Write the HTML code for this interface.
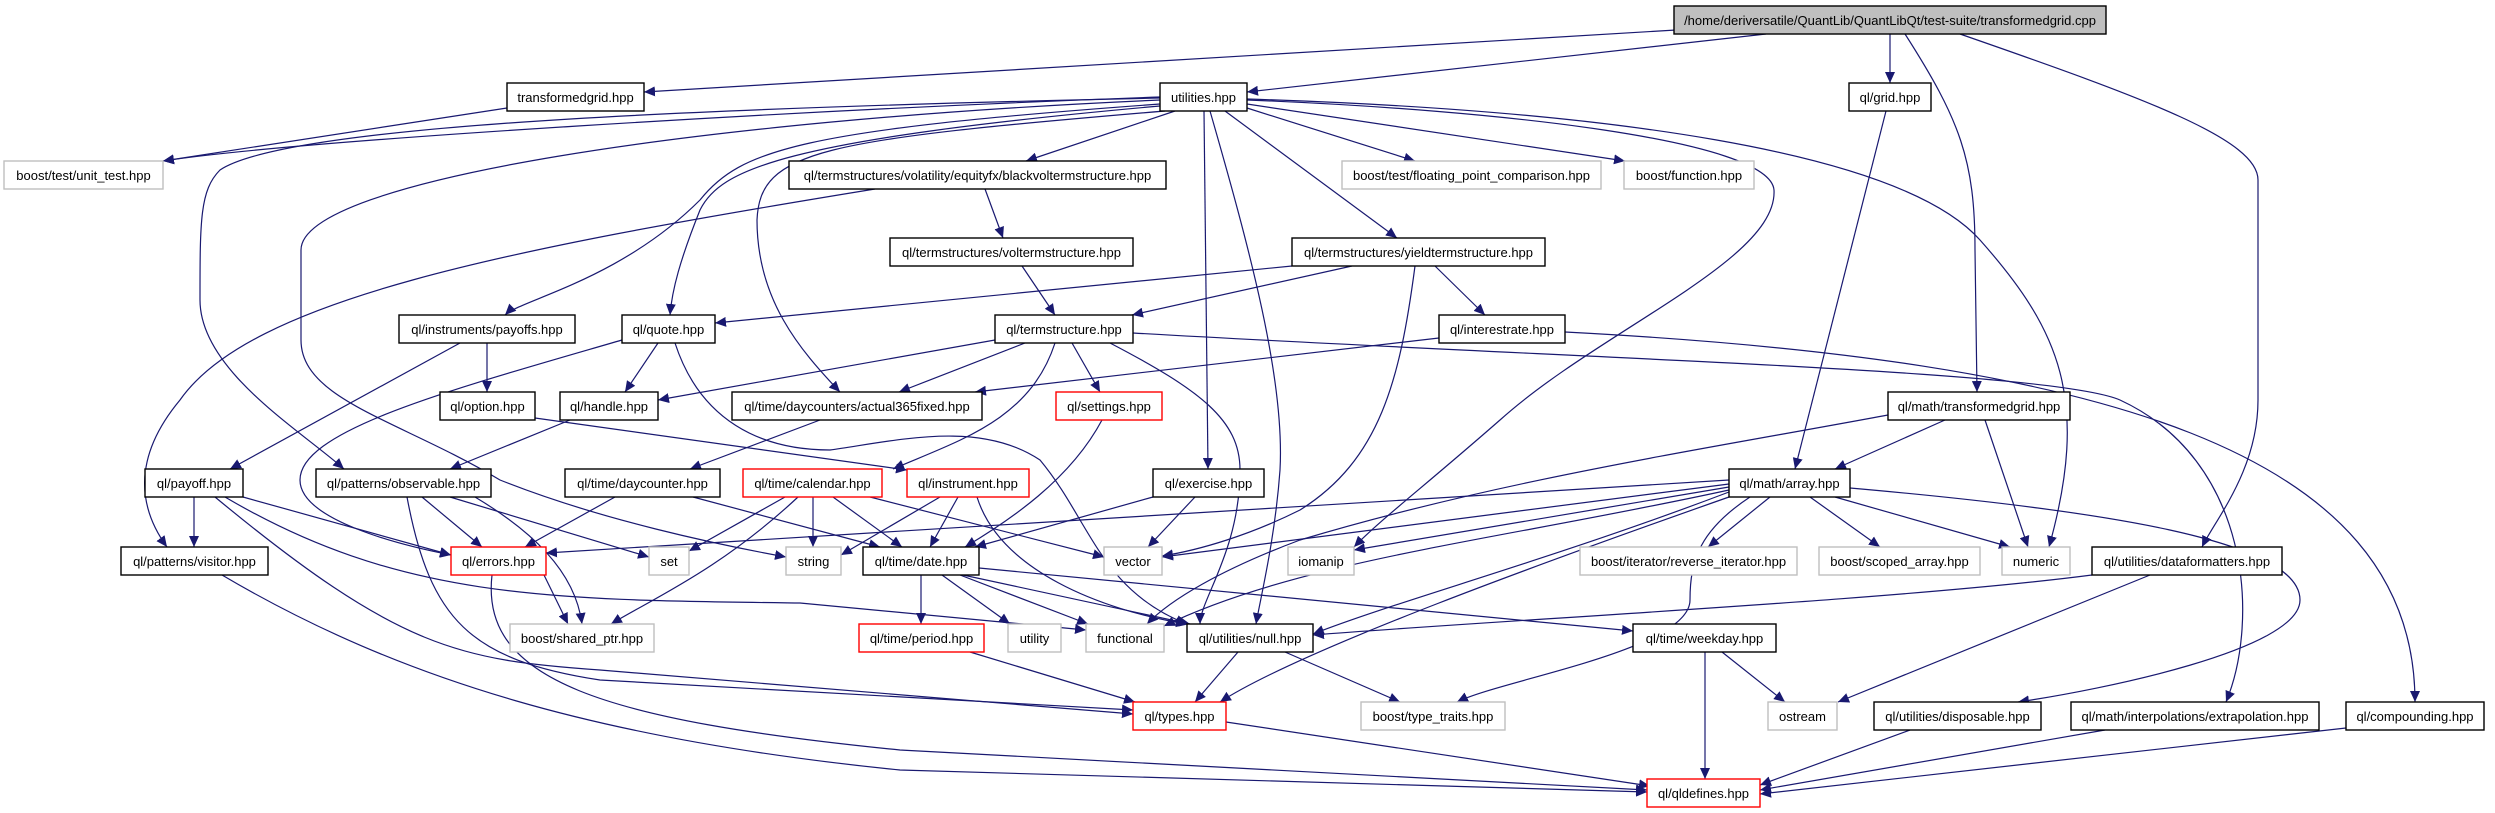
<!DOCTYPE html>
<html><head><meta charset="utf-8"><style>
html,body{margin:0;padding:0;background:#fff;}
svg{display:block;}
text{font-family:"Liberation Sans",sans-serif;font-size:13px;fill:#000;text-anchor:middle;}
.e{fill:none;stroke:#191970;stroke-width:1.2;marker-end:url(#a);}
.n{fill:#fff;stroke:#000;stroke-width:1.4;}
.g{fill:#fff;stroke:#bfbfbf;stroke-width:1.4;}
.r{fill:#fff;stroke:#ff0000;stroke-width:1.4;}
</style></head><body>
<svg width="2495" height="813" viewBox="0 0 2495 813" xmlns="http://www.w3.org/2000/svg">
<defs><marker id="a" markerUnits="userSpaceOnUse" markerWidth="12" markerHeight="10" refX="11" refY="5" orient="auto"><path d="M0,0 L11,5 L0,10 z" fill="#191970"/></marker></defs>
<g>
<path class="e" d="M1676,30 L644,92"/>
<path class="e" d="M1766,34 L1247,92"/>
<path class="e" d="M1890,34 L1890,83"/>
<path class="e" d="M1905,34 C1960,120 1975,160 1975,250 L1977,392"/>
<path class="e" d="M1960,34 C2150,100 2258,140 2258,180 L2258,400 C2258,470 2215,520 2202,547"/>
<path class="e" d="M1886,111 L1795,469"/>
<path class="e" d="M507,108 L163,161"/>
<path class="e" d="M1160,97 C800,110 300,140 163,161"/>
<path class="e" d="M1160,98 C600,110 280,130 220,170 C200,190 200,220 200,300 C200,370 300,430 344,469"/>
<path class="e" d="M1160,100 C700,120 301,180 301,250 L301,340 C301,400 400,420 500,480 C600,520 720,545 786,557"/>
<path class="e" d="M1160,104 C800,130 740,150 700,200 C620,280 520,300 505,315"/>
<path class="e" d="M1160,106 C780,140 720,170 700,210 C680,260 672,290 670,315"/>
<path class="e" d="M1165,111 C820,140 760,150 757,220 C757,300 800,350 840,392"/>
<path class="e" d="M1175,111 L1026,161"/>
<path class="e" d="M1247,108 L1415,161"/>
<path class="e" d="M1247,104 L1625,161"/>
<path class="e" d="M1204,111 L1208,469"/>
<path class="e" d="M1225,111 L1397,238"/>
<path class="e" d="M1210,111 C1250,250 1285,380 1280,470 C1275,540 1260,600 1256,624"/>
<path class="e" d="M1247,100 C1500,110 1770,140 1774,190 C1778,260 1600,330 1500,420 C1420,490 1380,520 1354,547"/>
<path class="e" d="M1247,99 C1600,110 1900,150 1980,240 C2060,330 2090,400 2049,547"/>
<path class="e" d="M985,189 L1003,238"/>
<path class="e" d="M875,189 C500,250 250,300 180,400 C130,460 140,510 167,547"/>
<path class="e" d="M1022,266 L1055,315"/>
<path class="e" d="M1352,266 L1132,315"/>
<path class="e" d="M1292,266 L715,323"/>
<path class="e" d="M1435,266 L1485,315"/>
<path class="e" d="M1415,266 C1400,380 1380,460 1300,510 C1250,535 1200,550 1162,556"/>
<path class="e" d="M1025,343 L899,392"/>
<path class="e" d="M995,340 L658,400"/>
<path class="e" d="M1072,343 L1100,392"/>
<path class="e" d="M1055,343 C1030,420 960,440 893,469"/>
<path class="e" d="M1110,343 C1200,390 1240,420 1240,470 C1240,550 1200,600 1200,624"/>
<path class="e" d="M1133,333 C1600,360 2050,370 2120,400 C2250,460 2260,620 2226,702"/>
<path class="e" d="M1439,338 L975,392"/>
<path class="e" d="M1565,332 C2100,360 2415,450 2415,702"/>
<path class="e" d="M658,343 L625,392"/>
<path class="e" d="M622,340 C450,390 300,430 300,480 C300,520 400,545 451,555"/>
<path class="e" d="M675,343 C700,420 760,450 830,450 C900,440 980,420 1040,460 C1090,520 1100,590 1187,624"/>
<path class="e" d="M487,343 L487,392"/>
<path class="e" d="M460,343 L230,469"/>
<path class="e" d="M570,420 L450,469"/>
<path class="e" d="M535,418 L907,470"/>
<path class="e" d="M820,420 L690,469"/>
<path class="e" d="M422,497 L482,547"/>
<path class="e" d="M450,497 L649,557"/>
<path class="e" d="M475,497 C530,530 575,570 582,624"/>
<path class="e" d="M407,497 C430,620 470,660 600,680 L1133,710"/>
<path class="e" d="M194,497 L194,547"/>
<path class="e" d="M243,497 L451,555"/>
<path class="e" d="M215,497 C400,650 460,660 600,670 L1133,714"/>
<path class="e" d="M225,497 C400,600 550,600 800,603 L1086,630"/>
<path class="e" d="M615,497 L525,547"/>
<path class="e" d="M693,497 L880,547"/>
<path class="e" d="M785,497 L689,551"/>
<path class="e" d="M813,497 L813,547"/>
<path class="e" d="M833,497 L902,547"/>
<path class="e" d="M870,497 L1104,557"/>
<path class="e" d="M798,497 C720,570 650,600 611,624"/>
<path class="e" d="M940,497 L841,555"/>
<path class="e" d="M958,497 L930,547"/>
<path class="e" d="M977,497 C1000,570 1100,610 1187,624"/>
<path class="e" d="M1153,497 L975,547"/>
<path class="e" d="M1195,497 L1148,547"/>
<path class="e" d="M1102,420 C1070,480 1010,520 965,547"/>
<path class="e" d="M921,575 L921,624"/>
<path class="e" d="M942,575 L1010,624"/>
<path class="e" d="M960,575 L1088,624"/>
<path class="e" d="M963,575 L1190,624"/>
<path class="e" d="M979,568 L1633,631"/>
<path class="e" d="M544,575 L568,624"/>
<path class="e" d="M492,575 C480,680 600,720 900,750 L1647,790"/>
<path class="e" d="M970,652 L1135,702"/>
<path class="e" d="M1238,652 L1195,702"/>
<path class="e" d="M1285,652 L1400,702"/>
<path class="e" d="M1722,652 L1785,702"/>
<path class="e" d="M1705,652 L1705,779"/>
<path class="e" d="M1226,722 L1650,786"/>
<path class="e" d="M222,575 C400,680 600,740 900,770 L1647,792"/>
<path class="e" d="M1729,480 L546,553"/>
<path class="e" d="M1729,484 L1162,557"/>
<path class="e" d="M1729,487 L1354,550"/>
<path class="e" d="M1729,490 C1500,540 1300,560 1164,626"/>
<path class="e" d="M1729,492 C1550,560 1400,600 1313,634"/>
<path class="e" d="M1729,497 C1550,560 1300,650 1220,702"/>
<path class="e" d="M1750,497 C1700,530 1690,560 1690,600 C1690,650 1500,680 1457,702"/>
<path class="e" d="M1770,497 L1708,547"/>
<path class="e" d="M1810,497 L1880,547"/>
<path class="e" d="M1835,497 L2010,547"/>
<path class="e" d="M1850,488 C2100,510 2300,540 2300,600 C2300,650 2100,690 2018,702"/>
<path class="e" d="M1945,420 L1835,469"/>
<path class="e" d="M1985,420 L2028,547"/>
<path class="e" d="M1888,415 C1700,450 1500,480 1300,540 C1220,570 1170,600 1147,624"/>
<path class="e" d="M2092,575 C1900,600 1500,620 1313,635"/>
<path class="e" d="M2150,575 L1838,702"/>
<path class="e" d="M1910,730 L1760,785"/>
<path class="e" d="M2105,730 L1760,790"/>
<path class="e" d="M2346,728 L1760,794"/>
</g>
<g>
<rect x="1674" y="6" width="432" height="28" fill="#bfbfbf" stroke="#000" stroke-width="1.4"/><text x="1890" y="25">/home/deriversatile/QuantLib/QuantLibQt/test-suite/transformedgrid.cpp</text>
<rect class="n" x="507" y="83" width="137" height="28"/><text x="575.5" y="102">transformedgrid.hpp</text>
<rect class="n" x="1160" y="83" width="87" height="28"/><text x="1203.5" y="102">utilities.hpp</text>
<rect class="n" x="1849" y="83" width="82" height="28"/><text x="1890" y="102">ql/grid.hpp</text>
<rect class="g" x="4" y="161" width="159" height="28"/><text x="83.5" y="180">boost/test/unit_test.hpp</text>
<rect class="n" x="789" y="161" width="377" height="28"/><text x="977.5" y="180">ql/termstructures/volatility/equityfx/blackvoltermstructure.hpp</text>
<rect class="g" x="1342" y="161" width="259" height="28"/><text x="1471.5" y="180">boost/test/floating_point_comparison.hpp</text>
<rect class="g" x="1624" y="161" width="130" height="28"/><text x="1689" y="180">boost/function.hpp</text>
<rect class="n" x="890" y="238" width="243" height="28"/><text x="1011.5" y="257">ql/termstructures/voltermstructure.hpp</text>
<rect class="n" x="1292" y="238" width="253" height="28"/><text x="1418.5" y="257">ql/termstructures/yieldtermstructure.hpp</text>
<rect class="n" x="399" y="315" width="176" height="28"/><text x="487" y="334">ql/instruments/payoffs.hpp</text>
<rect class="n" x="622" y="315" width="93" height="28"/><text x="668.5" y="334">ql/quote.hpp</text>
<rect class="n" x="995" y="315" width="138" height="28"/><text x="1064" y="334">ql/termstructure.hpp</text>
<rect class="n" x="1439" y="315" width="126" height="28"/><text x="1502" y="334">ql/interestrate.hpp</text>
<rect class="n" x="440" y="392" width="95" height="28"/><text x="487.5" y="411">ql/option.hpp</text>
<rect class="n" x="560" y="392" width="98" height="28"/><text x="609" y="411">ql/handle.hpp</text>
<rect class="n" x="732" y="392" width="250" height="28"/><text x="857" y="411">ql/time/daycounters/actual365fixed.hpp</text>
<rect class="r" x="1056" y="392" width="106" height="28"/><text x="1109" y="411">ql/settings.hpp</text>
<rect class="n" x="1888" y="392" width="182" height="28"/><text x="1979" y="411">ql/math/transformedgrid.hpp</text>
<rect class="n" x="145" y="469" width="98" height="28"/><text x="194" y="488">ql/payoff.hpp</text>
<rect class="n" x="316" y="469" width="175" height="28"/><text x="403.5" y="488">ql/patterns/observable.hpp</text>
<rect class="n" x="565" y="469" width="155" height="28"/><text x="642.5" y="488">ql/time/daycounter.hpp</text>
<rect class="r" x="743" y="469" width="139" height="28"/><text x="812.5" y="488">ql/time/calendar.hpp</text>
<rect class="r" x="907" y="469" width="122" height="28"/><text x="968" y="488">ql/instrument.hpp</text>
<rect class="n" x="1153" y="469" width="111" height="28"/><text x="1208.5" y="488">ql/exercise.hpp</text>
<rect class="n" x="1729" y="469" width="121" height="28"/><text x="1789.5" y="488">ql/math/array.hpp</text>
<rect class="n" x="121" y="547" width="147" height="28"/><text x="194.5" y="566">ql/patterns/visitor.hpp</text>
<rect class="r" x="451" y="547" width="95" height="28"/><text x="498.5" y="566">ql/errors.hpp</text>
<rect class="g" x="649" y="547" width="40" height="28"/><text x="669" y="566">set</text>
<rect class="g" x="786" y="547" width="55" height="28"/><text x="813.5" y="566">string</text>
<rect class="n" x="863" y="547" width="116" height="28"/><text x="921" y="566">ql/time/date.hpp</text>
<rect class="g" x="1104" y="547" width="58" height="28"/><text x="1133" y="566">vector</text>
<rect class="g" x="1288" y="547" width="66" height="28"/><text x="1321" y="566">iomanip</text>
<rect class="g" x="1580" y="547" width="217" height="28"/><text x="1688.5" y="566">boost/iterator/reverse_iterator.hpp</text>
<rect class="g" x="1819" y="547" width="161" height="28"/><text x="1899.5" y="566">boost/scoped_array.hpp</text>
<rect class="g" x="2002" y="547" width="68" height="28"/><text x="2036" y="566">numeric</text>
<rect class="n" x="2092" y="547" width="190" height="28"/><text x="2187" y="566">ql/utilities/dataformatters.hpp</text>
<rect class="g" x="510" y="624" width="144" height="28"/><text x="582" y="643">boost/shared_ptr.hpp</text>
<rect class="r" x="859" y="624" width="125" height="28"/><text x="921.5" y="643">ql/time/period.hpp</text>
<rect class="g" x="1008" y="624" width="53" height="28"/><text x="1034.5" y="643">utility</text>
<rect class="g" x="1086" y="624" width="78" height="28"/><text x="1125" y="643">functional</text>
<rect class="n" x="1187" y="624" width="126" height="28"/><text x="1250" y="643">ql/utilities/null.hpp</text>
<rect class="n" x="1633" y="624" width="143" height="28"/><text x="1704.5" y="643">ql/time/weekday.hpp</text>
<rect class="r" x="1133" y="702" width="93" height="28"/><text x="1179.5" y="721">ql/types.hpp</text>
<rect class="g" x="1361" y="702" width="144" height="28"/><text x="1433" y="721">boost/type_traits.hpp</text>
<rect class="g" x="1768" y="702" width="69" height="28"/><text x="1802.5" y="721">ostream</text>
<rect class="n" x="1874" y="702" width="167" height="28"/><text x="1957.5" y="721">ql/utilities/disposable.hpp</text>
<rect class="n" x="2071" y="702" width="248" height="28"/><text x="2195" y="721">ql/math/interpolations/extrapolation.hpp</text>
<rect class="n" x="2346" y="702" width="138" height="28"/><text x="2415" y="721">ql/compounding.hpp</text>
<rect class="r" x="1647" y="779" width="113" height="28"/><text x="1703.5" y="798">ql/qldefines.hpp</text>
</g>
</svg>
</body></html>
